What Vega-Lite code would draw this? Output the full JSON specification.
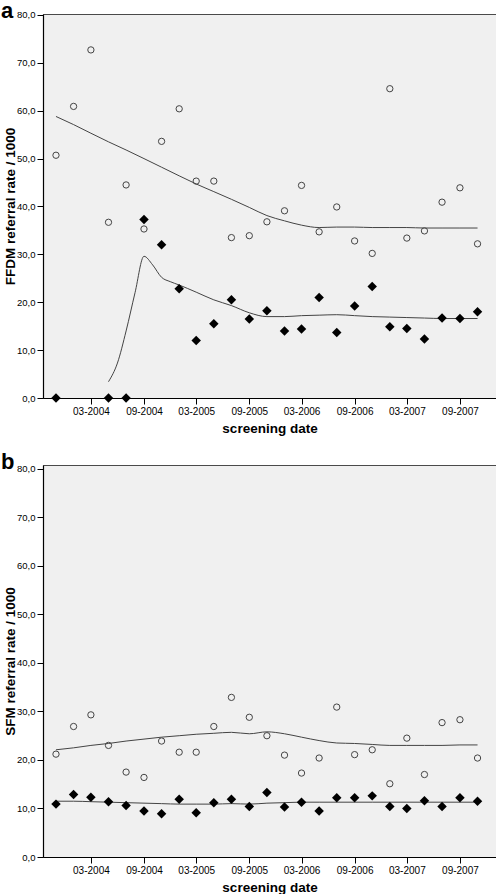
{
  "$schema": "https://vega.github.io/schema/vega-lite/v6.json",
  "padding": {"left": 0, "top": -1, "right": 0, "bottom": 0},
  "spacing": 15,
  "config": {
    "font": "Liberation Sans",
    "view": {"fill": "#f0f0f0", "stroke": "#4a4a4a", "strokeWidth": 1},
    "axis": {"grid": false, "domainColor": "#000", "domainWidth": 1.2, "tickColor": "#000", "tickSize": 6, "labelColor": "#000", "titleColor": "#000", "titleFontWeight": "bold", "titleFontSize": 13.5, "labelFont": "Liberation Sans", "titleFont": "Liberation Sans"},
    "axisX": {"labelFontSize": 10, "labelPadding": 2, "titlePadding": 5},
    "axisY": {"labelFontSize": 9.5, "labelPadding": 2, "titlePadding": -1}
  },
  "datasets": {
    "ffdm_points": [
      {"date": "2003-11-01", "series": "o", "rate": 50.7}, {"date": "2004-01-01", "series": "o", "rate": 60.9}, {"date": "2004-03-01", "series": "o", "rate": 72.7}, {"date": "2004-05-01", "series": "o", "rate": 36.7}, {"date": "2004-07-01", "series": "o", "rate": 44.5}, {"date": "2004-09-01", "series": "o", "rate": 35.3}, {"date": "2004-11-01", "series": "o", "rate": 53.6}, {"date": "2005-01-01", "series": "o", "rate": 60.4}, {"date": "2005-03-01", "series": "o", "rate": 45.3}, {"date": "2005-05-01", "series": "o", "rate": 45.3}, {"date": "2005-07-01", "series": "o", "rate": 33.5}, {"date": "2005-09-01", "series": "o", "rate": 33.9}, {"date": "2005-11-01", "series": "o", "rate": 36.8}, {"date": "2006-01-01", "series": "o", "rate": 39.1}, {"date": "2006-03-01", "series": "o", "rate": 44.4}, {"date": "2006-05-01", "series": "o", "rate": 34.7}, {"date": "2006-07-01", "series": "o", "rate": 39.9}, {"date": "2006-09-01", "series": "o", "rate": 32.8}, {"date": "2006-11-01", "series": "o", "rate": 30.2}, {"date": "2007-01-01", "series": "o", "rate": 64.6}, {"date": "2007-03-01", "series": "o", "rate": 33.4}, {"date": "2007-05-01", "series": "o", "rate": 34.9}, {"date": "2007-07-01", "series": "o", "rate": 40.9}, {"date": "2007-09-01", "series": "o", "rate": 43.9}, {"date": "2007-11-01", "series": "o", "rate": 32.2},
      {"date": "2003-11-01", "series": "d", "rate": 0}, {"date": "2004-05-01", "series": "d", "rate": 0}, {"date": "2004-07-01", "series": "d", "rate": 0}, {"date": "2004-09-01", "series": "d", "rate": 37.3}, {"date": "2004-11-01", "series": "d", "rate": 32.0}, {"date": "2005-01-01", "series": "d", "rate": 22.8}, {"date": "2005-03-01", "series": "d", "rate": 12.0}, {"date": "2005-05-01", "series": "d", "rate": 15.5}, {"date": "2005-07-01", "series": "d", "rate": 20.5}, {"date": "2005-09-01", "series": "d", "rate": 16.5}, {"date": "2005-11-01", "series": "d", "rate": 18.2}, {"date": "2006-01-01", "series": "d", "rate": 14.0}, {"date": "2006-03-01", "series": "d", "rate": 14.4}, {"date": "2006-05-01", "series": "d", "rate": 21.0}, {"date": "2006-07-01", "series": "d", "rate": 13.7}, {"date": "2006-09-01", "series": "d", "rate": 19.2}, {"date": "2006-11-01", "series": "d", "rate": 23.3}, {"date": "2007-01-01", "series": "d", "rate": 14.9}, {"date": "2007-03-01", "series": "d", "rate": 14.5}, {"date": "2007-05-01", "series": "d", "rate": 12.3}, {"date": "2007-07-01", "series": "d", "rate": 16.7}, {"date": "2007-09-01", "series": "d", "rate": 16.6}, {"date": "2007-11-01", "series": "d", "rate": 18.0}
    ],
    "ffdm_fit": [
      {"date": "2003-11-01", "series": "o", "fit": 58.8}, {"date": "2004-01-01", "series": "o", "fit": 57.1}, {"date": "2004-03-01", "series": "o", "fit": 55.3}, {"date": "2004-05-01", "series": "o", "fit": 53.5}, {"date": "2004-07-01", "series": "o", "fit": 51.8}, {"date": "2004-09-01", "series": "o", "fit": 50.0}, {"date": "2004-11-01", "series": "o", "fit": 48.2}, {"date": "2005-01-01", "series": "o", "fit": 46.4}, {"date": "2005-03-01", "series": "o", "fit": 44.7}, {"date": "2005-05-01", "series": "o", "fit": 43.1}, {"date": "2005-07-01", "series": "o", "fit": 41.5}, {"date": "2005-09-01", "series": "o", "fit": 39.8}, {"date": "2005-11-01", "series": "o", "fit": 38.1}, {"date": "2006-01-01", "series": "o", "fit": 37.0}, {"date": "2006-03-01", "series": "o", "fit": 36.1}, {"date": "2006-05-01", "series": "o", "fit": 35.6}, {"date": "2006-07-01", "series": "o", "fit": 35.7}, {"date": "2006-09-01", "series": "o", "fit": 35.7}, {"date": "2006-11-01", "series": "o", "fit": 35.6}, {"date": "2007-01-01", "series": "o", "fit": 35.6}, {"date": "2007-03-01", "series": "o", "fit": 35.6}, {"date": "2007-05-01", "series": "o", "fit": 35.5}, {"date": "2007-07-01", "series": "o", "fit": 35.5}, {"date": "2007-09-01", "series": "o", "fit": 35.5}, {"date": "2007-11-01", "series": "o", "fit": 35.5},
      {"date": "2004-05-01", "series": "d", "fit": 3.4}, {"date": "2004-06-01", "series": "d", "fit": 7.3}, {"date": "2004-07-01", "series": "d", "fit": 14.0}, {"date": "2004-08-01", "series": "d", "fit": 22.0}, {"date": "2004-09-01", "series": "d", "fit": 29.6}, {"date": "2004-10-01", "series": "d", "fit": 27.8}, {"date": "2004-11-01", "series": "d", "fit": 25.2}, {"date": "2004-12-01", "series": "d", "fit": 24.3}, {"date": "2005-01-01", "series": "d", "fit": 23.6}, {"date": "2005-03-01", "series": "d", "fit": 22.1}, {"date": "2005-05-01", "series": "d", "fit": 20.5}, {"date": "2005-07-01", "series": "d", "fit": 19.3}, {"date": "2005-09-01", "series": "d", "fit": 17.8}, {"date": "2005-11-01", "series": "d", "fit": 17.0}, {"date": "2006-01-01", "series": "d", "fit": 17.0}, {"date": "2006-03-01", "series": "d", "fit": 17.2}, {"date": "2006-05-01", "series": "d", "fit": 17.3}, {"date": "2006-07-01", "series": "d", "fit": 17.4}, {"date": "2006-09-01", "series": "d", "fit": 17.2}, {"date": "2006-11-01", "series": "d", "fit": 17.0}, {"date": "2007-01-01", "series": "d", "fit": 16.9}, {"date": "2007-03-01", "series": "d", "fit": 16.8}, {"date": "2007-05-01", "series": "d", "fit": 16.7}, {"date": "2007-07-01", "series": "d", "fit": 16.6}, {"date": "2007-09-01", "series": "d", "fit": 16.6}, {"date": "2007-11-01", "series": "d", "fit": 16.6}
    ],
    "sfm_points": [
      {"date": "2003-11-01", "series": "o", "rate": 21.2}, {"date": "2004-01-01", "series": "o", "rate": 26.9}, {"date": "2004-03-01", "series": "o", "rate": 29.3}, {"date": "2004-05-01", "series": "o", "rate": 23.0}, {"date": "2004-07-01", "series": "o", "rate": 17.5}, {"date": "2004-09-01", "series": "o", "rate": 16.4}, {"date": "2004-11-01", "series": "o", "rate": 23.9}, {"date": "2005-01-01", "series": "o", "rate": 21.6}, {"date": "2005-03-01", "series": "o", "rate": 21.6}, {"date": "2005-05-01", "series": "o", "rate": 26.9}, {"date": "2005-07-01", "series": "o", "rate": 32.9}, {"date": "2005-09-01", "series": "o", "rate": 28.8}, {"date": "2005-11-01", "series": "o", "rate": 25.0}, {"date": "2006-01-01", "series": "o", "rate": 21.0}, {"date": "2006-03-01", "series": "o", "rate": 17.3}, {"date": "2006-05-01", "series": "o", "rate": 20.4}, {"date": "2006-07-01", "series": "o", "rate": 30.9}, {"date": "2006-09-01", "series": "o", "rate": 21.1}, {"date": "2006-11-01", "series": "o", "rate": 22.1}, {"date": "2007-01-01", "series": "o", "rate": 15.1}, {"date": "2007-03-01", "series": "o", "rate": 24.5}, {"date": "2007-05-01", "series": "o", "rate": 17.0}, {"date": "2007-07-01", "series": "o", "rate": 27.7}, {"date": "2007-09-01", "series": "o", "rate": 28.3}, {"date": "2007-11-01", "series": "o", "rate": 20.4},
      {"date": "2003-11-01", "series": "d", "rate": 10.9}, {"date": "2004-01-01", "series": "d", "rate": 12.9}, {"date": "2004-03-01", "series": "d", "rate": 12.3}, {"date": "2004-05-01", "series": "d", "rate": 11.4}, {"date": "2004-07-01", "series": "d", "rate": 10.6}, {"date": "2004-09-01", "series": "d", "rate": 9.5}, {"date": "2004-11-01", "series": "d", "rate": 8.9}, {"date": "2005-01-01", "series": "d", "rate": 11.9}, {"date": "2005-03-01", "series": "d", "rate": 9.1}, {"date": "2005-05-01", "series": "d", "rate": 11.2}, {"date": "2005-07-01", "series": "d", "rate": 11.9}, {"date": "2005-09-01", "series": "d", "rate": 10.4}, {"date": "2005-11-01", "series": "d", "rate": 13.3}, {"date": "2006-01-01", "series": "d", "rate": 10.3}, {"date": "2006-03-01", "series": "d", "rate": 11.3}, {"date": "2006-05-01", "series": "d", "rate": 9.5}, {"date": "2006-07-01", "series": "d", "rate": 12.2}, {"date": "2006-09-01", "series": "d", "rate": 12.2}, {"date": "2006-11-01", "series": "d", "rate": 12.6}, {"date": "2007-01-01", "series": "d", "rate": 10.4}, {"date": "2007-03-01", "series": "d", "rate": 10.0}, {"date": "2007-05-01", "series": "d", "rate": 11.6}, {"date": "2007-07-01", "series": "d", "rate": 10.4}, {"date": "2007-09-01", "series": "d", "rate": 12.2}, {"date": "2007-11-01", "series": "d", "rate": 11.5}
    ],
    "sfm_fit": [
      {"date": "2003-11-01", "series": "o", "fit": 22.1}, {"date": "2004-01-01", "series": "o", "fit": 22.5}, {"date": "2004-03-01", "series": "o", "fit": 23.0}, {"date": "2004-05-01", "series": "o", "fit": 23.4}, {"date": "2004-07-01", "series": "o", "fit": 23.9}, {"date": "2004-09-01", "series": "o", "fit": 24.3}, {"date": "2004-11-01", "series": "o", "fit": 24.7}, {"date": "2005-01-01", "series": "o", "fit": 25.0}, {"date": "2005-03-01", "series": "o", "fit": 25.3}, {"date": "2005-05-01", "series": "o", "fit": 25.5}, {"date": "2005-07-01", "series": "o", "fit": 25.7}, {"date": "2005-09-01", "series": "o", "fit": 25.4}, {"date": "2005-11-01", "series": "o", "fit": 25.8}, {"date": "2006-01-01", "series": "o", "fit": 25.4}, {"date": "2006-03-01", "series": "o", "fit": 24.7}, {"date": "2006-05-01", "series": "o", "fit": 24.0}, {"date": "2006-07-01", "series": "o", "fit": 23.5}, {"date": "2006-09-01", "series": "o", "fit": 23.4}, {"date": "2006-11-01", "series": "o", "fit": 23.2}, {"date": "2007-01-01", "series": "o", "fit": 23.0}, {"date": "2007-03-01", "series": "o", "fit": 23.0}, {"date": "2007-05-01", "series": "o", "fit": 23.0}, {"date": "2007-07-01", "series": "o", "fit": 23.0}, {"date": "2007-09-01", "series": "o", "fit": 23.1}, {"date": "2007-11-01", "series": "o", "fit": 23.1},
      {"date": "2003-11-01", "series": "d", "fit": 11.5}, {"date": "2004-01-01", "series": "d", "fit": 11.5}, {"date": "2004-03-01", "series": "d", "fit": 11.4}, {"date": "2004-05-01", "series": "d", "fit": 11.3}, {"date": "2004-07-01", "series": "d", "fit": 11.2}, {"date": "2004-09-01", "series": "d", "fit": 11.1}, {"date": "2004-11-01", "series": "d", "fit": 11.0}, {"date": "2005-01-01", "series": "d", "fit": 10.9}, {"date": "2005-03-01", "series": "d", "fit": 10.9}, {"date": "2005-05-01", "series": "d", "fit": 10.9}, {"date": "2005-07-01", "series": "d", "fit": 11.0}, {"date": "2005-09-01", "series": "d", "fit": 10.9}, {"date": "2005-11-01", "series": "d", "fit": 11.1}, {"date": "2006-01-01", "series": "d", "fit": 11.2}, {"date": "2006-03-01", "series": "d", "fit": 11.3}, {"date": "2006-05-01", "series": "d", "fit": 11.3}, {"date": "2006-07-01", "series": "d", "fit": 11.3}, {"date": "2006-09-01", "series": "d", "fit": 11.3}, {"date": "2006-11-01", "series": "d", "fit": 11.3}, {"date": "2007-01-01", "series": "d", "fit": 11.3}, {"date": "2007-03-01", "series": "d", "fit": 11.3}, {"date": "2007-05-01", "series": "d", "fit": 11.3}, {"date": "2007-07-01", "series": "d", "fit": 11.3}, {"date": "2007-09-01", "series": "d", "fit": 11.3}, {"date": "2007-11-01", "series": "d", "fit": 11.3}
    ]
  },
  "vconcat": [
    {
      "title": {"text": "a", "anchor": "start", "frame": "group", "dx": -42, "fontSize": 22, "fontWeight": "bold", "baseline": "alphabetic", "offset": -30, "color": "#000"},
      "width": 453, "height": 384,
      "layer": [
        {
          "data": {"name": "ffdm_fit"},
          "mark": {"type": "line", "stroke": "#444", "strokeWidth": 1, "interpolate": "monotone"},
          "encoding": {
            "x": {"field": "date", "type": "temporal", "title": "screening date", "scale": {"type": "utc", "domain": [{"year": 2003, "month": 9, "date": 17, "utc": true}, {"year": 2008, "month": 1, "date": 4, "utc": true}]}, "axis": {"format": "%m-%Y", "values": [{"year": 2004, "month": 3, "date": 1, "utc": true}, {"year": 2004, "month": 9, "date": 1, "utc": true}, {"year": 2005, "month": 3, "date": 1, "utc": true}, {"year": 2005, "month": 9, "date": 1, "utc": true}, {"year": 2006, "month": 3, "date": 1, "utc": true}, {"year": 2006, "month": 9, "date": 1, "utc": true}, {"year": 2007, "month": 3, "date": 1, "utc": true}, {"year": 2007, "month": 9, "date": 1, "utc": true}]}},
            "y": {"field": "fit", "type": "quantitative", "title": "FFDM referral rate / 1000", "scale": {"domain": [0, 80.2], "nice": false}, "axis": {"values": [0, 10, 20, 30, 40, 50, 60, 70, 80], "labelExpr": "replace(format(datum.value, '.1f'), '.', ',')"}},
            "detail": {"field": "series"}
          }
        },
        {
          "data": {"name": "ffdm_points"},
          "transform": [{"filter": "datum.series === 'o'"}],
          "mark": {"type": "point", "shape": "circle", "filled": false, "stroke": "#444", "strokeWidth": 1, "size": 40, "opacity": 1},
          "encoding": {
            "x": {"field": "date", "type": "temporal"},
            "y": {"field": "rate", "type": "quantitative"}
          }
        },
        {
          "data": {"name": "ffdm_points"},
          "transform": [{"filter": "datum.series === 'd'"}],
          "mark": {"type": "point", "shape": "diamond", "filled": true, "fill": "#000", "size": 90, "opacity": 1},
          "encoding": {
            "x": {"field": "date", "type": "temporal"},
            "y": {"field": "rate", "type": "quantitative"}
          }
        }
      ]
    },
    {
      "title": {"text": "b", "anchor": "start", "frame": "group", "dx": -42, "fontSize": 22, "fontWeight": "bold", "baseline": "alphabetic", "offset": -27, "color": "#000"},
      "width": 453, "height": 392,
      "layer": [
        {
          "data": {"name": "sfm_fit"},
          "mark": {"type": "line", "stroke": "#444", "strokeWidth": 1, "interpolate": "monotone"},
          "encoding": {
            "x": {"field": "date", "type": "temporal", "title": "screening date", "scale": {"type": "utc", "domain": [{"year": 2003, "month": 9, "date": 17, "utc": true}, {"year": 2008, "month": 1, "date": 4, "utc": true}]}, "axis": {"format": "%m-%Y", "values": [{"year": 2004, "month": 3, "date": 1, "utc": true}, {"year": 2004, "month": 9, "date": 1, "utc": true}, {"year": 2005, "month": 3, "date": 1, "utc": true}, {"year": 2005, "month": 9, "date": 1, "utc": true}, {"year": 2006, "month": 3, "date": 1, "utc": true}, {"year": 2006, "month": 9, "date": 1, "utc": true}, {"year": 2007, "month": 3, "date": 1, "utc": true}, {"year": 2007, "month": 9, "date": 1, "utc": true}]}},
            "y": {"field": "fit", "type": "quantitative", "title": "SFM referral rate / 1000", "scale": {"domain": [0, 80.8], "nice": false}, "axis": {"values": [0, 10, 20, 30, 40, 50, 60, 70, 80], "labelExpr": "replace(format(datum.value, '.1f'), '.', ',')"}},
            "detail": {"field": "series"}
          }
        },
        {
          "data": {"name": "sfm_points"},
          "transform": [{"filter": "datum.series === 'o'"}],
          "mark": {"type": "point", "shape": "circle", "filled": false, "stroke": "#444", "strokeWidth": 1, "size": 40, "opacity": 1},
          "encoding": {
            "x": {"field": "date", "type": "temporal"},
            "y": {"field": "rate", "type": "quantitative"}
          }
        },
        {
          "data": {"name": "sfm_points"},
          "transform": [{"filter": "datum.series === 'd'"}],
          "mark": {"type": "point", "shape": "diamond", "filled": true, "fill": "#000", "size": 90, "opacity": 1},
          "encoding": {
            "x": {"field": "date", "type": "temporal"},
            "y": {"field": "rate", "type": "quantitative"}
          }
        }
      ]
    }
  ]
}
